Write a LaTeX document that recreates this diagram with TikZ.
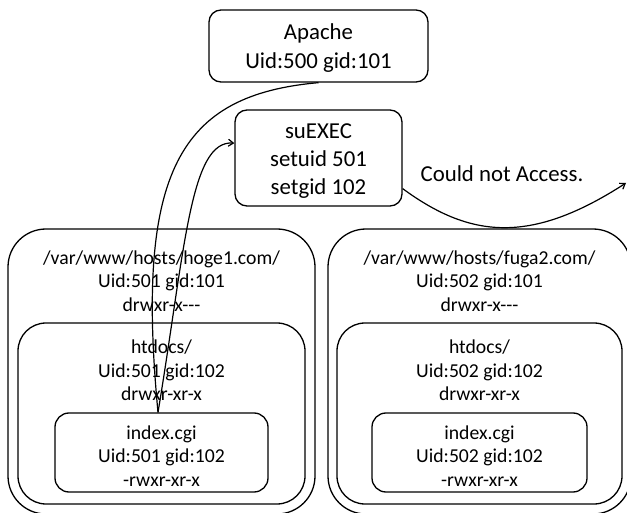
\documentclass[tikz,border=0pt]{standalone}
\usepackage{fontspec}
\setmainfont{Carlito}
\usetikzlibrary{arrows.meta}
\tikzset{
  boxs/.style={draw, line width=1.3pt, inner sep=0pt, rounded corners=#1},
  bigtxt/.style={font=\fontsize{22.8}{28.3}\selectfont, align=center, anchor=base, inner sep=0pt},
  smalltxt/.style={font=\fontsize{19.7}{23.5}\selectfont, align=center, anchor=base, inner sep=0pt},
  conn/.style={line width=1.2pt},
  arr/.style={conn, -{Straight Barb[length=5pt,width=7pt]}}
}
\begin{document}
\begin{tikzpicture}[x=1pt,y=-1pt]
\useasboundingbox (0,0) rectangle (627,513);
\clip (0,0) rectangle (627,513);
% top boxes (text nodes anchored at the baseline of their last line)
\node[boxs=12pt, minimum width=219pt, minimum height=72pt] (apache) at (318.5,46) {};
\node[bigtxt] (apachet) at (318.5,68.3) {Apache\\Uid:500 gid:101};
\node[boxs=12pt, minimum width=167pt, minimum height=96pt] (suexec) at (318.5,158) {};
\node[bigtxt] (suexect) at (318.5,195) {suEXEC\\setuid 501\\setgid 102};
% left host
\node[boxs=38pt, minimum width=307pt, minimum height=285pt] (outer1) at (161.5,371.5) {};
\node[smalltxt] (outer1t) at (161.5,311.5) {/var/www/hosts/hoge1.com/\\Uid:501 gid:101\\drwxr-x{-}{-}{-}};
\node[boxs=28pt, minimum width=287pt, minimum height=181pt] (htdocs1) at (161.5,413.5) {};
\node[smalltxt] (htdocs1t) at (161.5,400.5) {htdocs/\\Uid:501 gid:102\\drwxr-xr-x};
\node[boxs=14pt, minimum width=213pt, minimum height=79pt] (idx1) at (161.5,452.5) {};
\node[smalltxt] (idx1t) at (161.5,486) {index.cgi\\Uid:501 gid:102\\-rwxr-xr-x};
% right host
\node[boxs=38pt, minimum width=303pt, minimum height=285pt] (outer2) at (479.5,371.5) {};
\node[smalltxt] (outer2t) at (479.5,311.5) {/var/www/hosts/fuga2.com/\\Uid:502 gid:101\\drwxr-x{-}{-}{-}};
\node[boxs=28pt, minimum width=285pt, minimum height=181pt] (htdocs2) at (479.5,413.5) {};
\node[smalltxt] (htdocs2t) at (479.5,400.5) {htdocs/\\Uid:502 gid:102\\drwxr-xr-x};
\node[boxs=14pt, minimum width=215pt, minimum height=79pt] (idx2) at (479.5,452.5) {};
\node[smalltxt] (idx2t) at (479.5,486) {index.cgi\\Uid:502 gid:102\\-rwxr-xr-x};
% label
\node[bigtxt] (cna) at (502,181.7) {Could not Access.};
% connectors
\coordinate (meet) at ([xshift=-3.5pt]idx1.north);
\coordinate (farend) at (626,183);
\draw[conn] (apache.south) .. controls (180,95) and (135,170) .. (meet);
\draw[arr] (meet) .. controls (185,250) and (190,140) .. (suexec.170);
\draw[arr] (suexec.-20) .. controls (470,238) and (530,245) .. (farend);
\end{tikzpicture}
\end{document}
